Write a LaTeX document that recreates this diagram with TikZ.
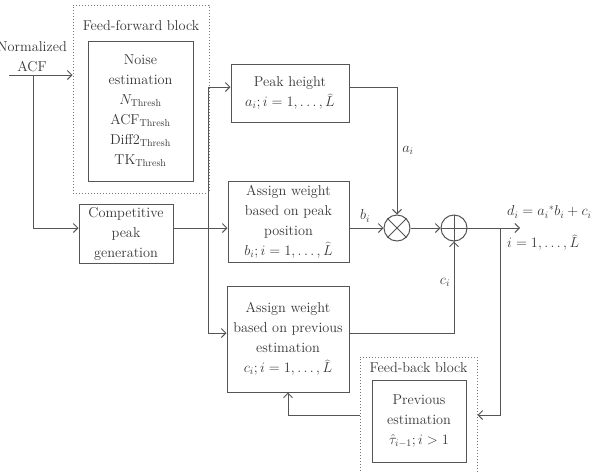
\documentclass[tikz,border=0pt]{standalone}
\usetikzlibrary{arrows.meta}
\definecolor{linec}{HTML}{555555}
\definecolor{textc}{HTML}{363636}
\begin{document}
\begin{tikzpicture}[x=1pt,y=-1pt,
  font=\fontsize{14.3}{20}\selectfont,
  every node/.style={text=textc},
  box/.style={draw=linec, line width=1pt, align=center, inner sep=0pt},
  txt/.style={align=center, inner sep=0pt},
  wire/.style={draw=linec, line width=1pt},
  conn/.style={wire, -{Straight Barb[length=4.5pt,width=9pt]}},
  dotbox/.style={draw=linec!80, dotted, line width=1pt},
  op/.style={circle, draw=linec, line width=1pt, minimum size=26pt, inner sep=0pt}]
\useasboundingbox (0,0) rectangle (605,472);
\clip (0,0) rectangle (605,472);

% feed-forward block
\node[dotbox, minimum width=136pt, minimum height=188pt] (ff) at (141,99) {};
\node[txt] (fflabel) at (141,26) {Feed-forward block};
\node[box, minimum width=105pt, minimum height=140pt] (noise) at (140.5,111)
  {Noise\\estimation\\$N_{\mathrm{Thresh}}$\\ACF$_{\mathrm{Thresh}}$\\Diff2$_{\mathrm{Thresh}}$\\TK$_{\mathrm{Thresh}}$};

% input
\node[txt] (inp) at (32,57) {Normalized\\ACF};
\coordinate (in0) at (9,75);
\coordinate (sp1) at (33,75);
\coordinate (ya) at (0,87);
\coordinate (rowb) at (0,228);
\coordinate (yc) at (0,333);
\coordinate (yfb) at (0,415);

% blocks
\node[box, minimum width=94pt, minimum height=59pt] (comp) at (126,233.5) {Competitive\\peak\\generation};
\node[box, minimum width=118pt, minimum height=58pt] (peak) at (290,93) {Peak height\\$a_i; i = 1,\ldots,\widehat{L}$};
\node[box, minimum width=121pt, minimum height=81pt] (pos) at (288.5,221.5) {Assign weight\\based on peak\\position\\$b_i; i = 1,\ldots,\widehat{L}$};
\node[box, minimum width=122pt, minimum height=106pt] (prev) at (288,339) {Assign weight\\based on previous\\estimation\\$c_i; i = 1,\ldots,\widehat{L}$};

\node[op] (mult) at (397,228) {};
\draw[linec, line width=1pt] (mult.north east) -- (mult.south west) (mult.north west) -- (mult.south east);
\node[op] (plus) at (454,228) {};
\draw[linec, line width=1pt] (plus.north) -- (plus.south) (plus.west) -- (plus.east);

% feedback block
\node[dotbox, minimum width=117pt, minimum height=130pt] (fb) at (418.5,422) {};
\node[txt] (fblabel) at (418.5,368) {Feed-back block};
\node[box, minimum width=94pt, minimum height=82pt] (pest) at (419,421) {Previous\\estimation\\$\hat{\tau}_{i-1}; i > 1$};

% connectors
\draw[conn] (in0) -- (in0 -| ff.west);
\draw[conn] (sp1) |- (rowb -| comp.west);
\draw[conn] (rowb -| comp.east) -- (rowb -| pos.west);
\coordinate (br) at (208,228);
\draw[conn] (br) |- (ya -| peak.west);
\draw[conn] (br) |- (yc -| prev.west);
\draw[conn] (ya -| peak.east) -| (mult.north);
\draw[conn] (rowb -| pos.east) -- (mult.west);
\draw[conn] (mult.east) -- (plus.west);
\coordinate (out) at (520,228);
\coordinate (sp2) at (500,228);
\draw[conn] (plus.east) -- (out);
\draw[conn] (sp2) |- (yfb -| fb.east);
\draw[conn] (yfb -| fb.west) -| (prev.south);
\draw[conn] (yc -| prev.east) -| (plus.south);

% labels
\node[txt] (la) at (408,150) {$a_i$};
\node[txt] (lb) at (365,216) {$b_i$};
\node[txt] (lc) at (445,282) {$c_i$};
\node[txt, anchor=west] (ld) at (507,212) {$d_i = a_i{}^{*}b_i + c_i$};
\node[txt, anchor=west] (li) at (507,243) {$i = 1,\ldots,\widehat{L}$};
\end{tikzpicture}
\end{document}
